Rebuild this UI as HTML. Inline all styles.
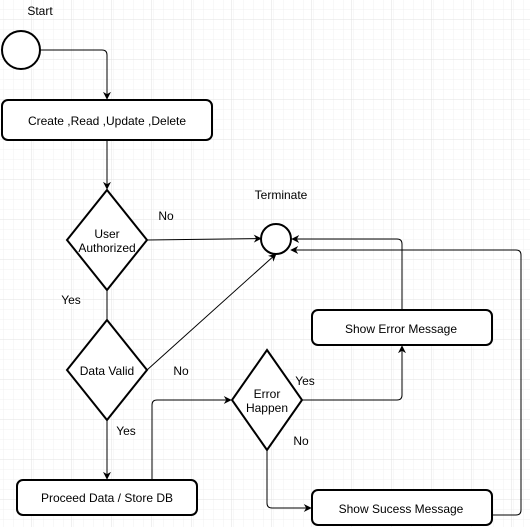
<!DOCTYPE html>
<html><head><meta charset="utf-8"><style>
html,body{margin:0;padding:0;background:#fff;}
svg{display:block;}
text{font-family:"Liberation Sans",sans-serif;font-size:12px;fill:#000;}
</style></head><body>
<svg width="530" height="527" viewBox="0 0 530 527" xmlns="http://www.w3.org/2000/svg">
<defs>
<pattern id="minor" x="2" y="0" width="10" height="10" patternUnits="userSpaceOnUse">
<path d="M10 0V10M0 10H10" fill="none" stroke="#f0f0f0" stroke-width="1"/>
</pattern>
<pattern id="major" x="-8" y="-20" width="40" height="40" patternUnits="userSpaceOnUse">
<rect width="40" height="40" fill="url(#minor)"/>
<path d="M40 0V40M0 40H40" fill="none" stroke="#e2e2e2" stroke-width="1"/>
</pattern>
<marker id="a" viewBox="0 0 10 10" refX="9" refY="5" markerWidth="8" markerHeight="8" orient="auto" markerUnits="userSpaceOnUse">
<path d="M0 0L10 5L0 10L3 5Z" fill="#000"/>
</marker>
</defs>
<rect width="530" height="527" fill="url(#major)"/>
<g fill="none" stroke="#000" stroke-width="1">
<path d="M40 50H102Q107 50 107 55V99" marker-end="url(#a)"/>
<path d="M107 140V189" marker-end="url(#a)"/>
<path d="M147 240L261 238.5" marker-end="url(#a)"/>
<path d="M107 290V320"/>
<path d="M147 370L276 254" marker-end="url(#a)"/>
<path d="M107 420V479" marker-end="url(#a)"/>
<path d="M152 480V405Q152 400 157 400H231" marker-end="url(#a)"/>
<path d="M302 400H397Q402 400 402 395V346" marker-end="url(#a)"/>
<path d="M402 310V244Q402 239 397 239H292" marker-end="url(#a)"/>
<path d="M267 450V503Q267 508 272 508H311" marker-end="url(#a)"/>
<path d="M492 515H516Q521 515 521 510V255Q521 250 516 250H291" marker-end="url(#a)"/>
</g>
<g fill="#fff" stroke="#000" stroke-width="2">
<circle cx="21" cy="50" r="19"/>
<rect x="2" y="100" width="210" height="40" rx="6"/>
<path d="M107 190L147 240L107 290L67 240Z"/>
<circle cx="276" cy="239" r="15"/>
<path d="M107 320L147 370L107 420L67 370Z"/>
<rect x="17" y="480" width="180" height="35" rx="6"/>
<path d="M267 350L302 400L267 450L232 400Z"/>
<rect x="312" y="310" width="180" height="35" rx="6"/>
<rect x="312" y="490" width="180" height="35" rx="6"/>
</g>
<g text-anchor="middle">
<text x="40" y="15">Start</text>
<text x="107" y="125">Create ,Read ,Update ,Delete</text>
<text x="107" y="238">User</text>
<text x="107" y="252">Authorized</text>
<text x="166" y="220">No</text>
<text x="281" y="199">Terminate</text>
<text x="71" y="304">Yes</text>
<text x="107" y="375">Data Valid</text>
<text x="181" y="375">No</text>
<text x="126" y="435">Yes</text>
<text x="107" y="502">Proceed Data / Store DB</text>
<text x="267" y="398">Error</text>
<text x="267" y="412">Happen</text>
<text x="305" y="385">Yes</text>
<text x="301" y="445">No</text>
<text x="401" y="333">Show Error Message</text>
<text x="401" y="513">Show Sucess Message</text>
</g>
</svg>
</body></html>
